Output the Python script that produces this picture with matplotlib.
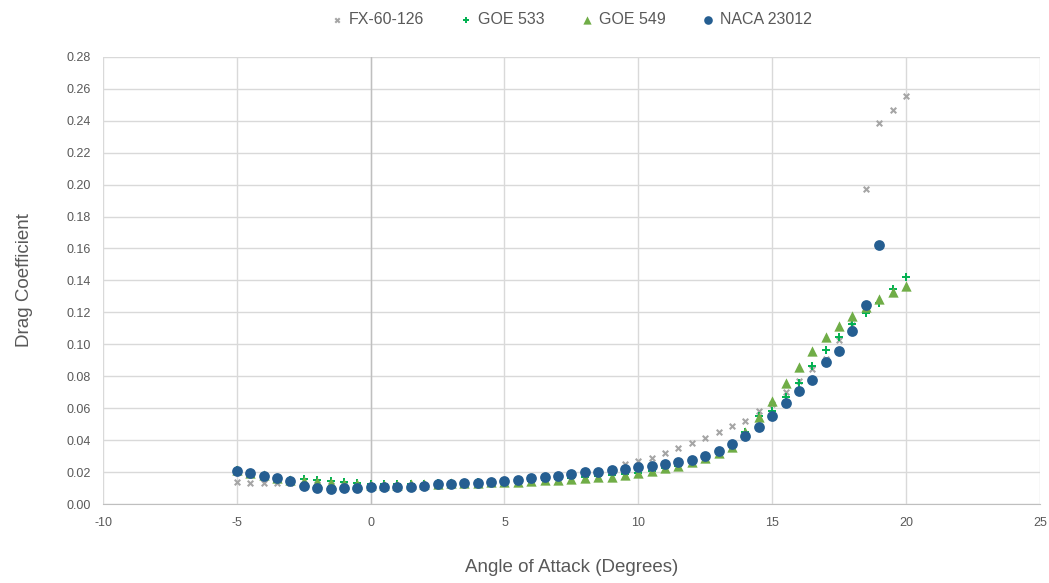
import matplotlib.pyplot as plt
import matplotlib.ticker as mticker
import numpy as np

# углы атаки, шаг 0.5 градуса (-5 ... 20)
alpha = np.arange(-5, 20.01, 0.5)

fx_60_126 = [0.0138, 0.0132, 0.0130, 0.0130, 0.0130, 0.0128, 0.0125, 0.0122, 0.0118, 0.0115,
             0.0112, 0.0110, 0.0110, 0.0112, 0.0115, 0.0118, 0.0120, 0.0123, 0.0127, 0.0130,
             0.0135, 0.0140, 0.0150, 0.0160, 0.0167, 0.0175, 0.0185, 0.0195, 0.0210, 0.0250,
             0.0270, 0.0290, 0.0320, 0.0350, 0.0380, 0.0413, 0.0450, 0.0490, 0.0520, 0.0580,
             0.0625, 0.0700, 0.0770, 0.0845, 0.0910, 0.1027, 0.1120, 0.1975, 0.2387, 0.2470,
             0.2556]
goe_533 = [0.0210, 0.0192, 0.0178, 0.0163, 0.0152, 0.0155, 0.0150, 0.0145, 0.0135, 0.0130,
           0.0125, 0.0125, 0.0125, 0.0126, 0.0128, 0.0130, 0.0132, 0.0134, 0.0136, 0.0138,
           0.0140, 0.0143, 0.0147, 0.0152, 0.0157, 0.0162, 0.0167, 0.0173, 0.0180, 0.0187,
           0.0195, 0.0208, 0.0223, 0.0240, 0.0262, 0.0295, 0.0330, 0.0370, 0.0450, 0.0550,
           0.0580, 0.0670, 0.0760, 0.0865, 0.0965, 0.1047, 0.1128, 0.1197, 0.1260, 0.1347,
           0.1420]
goe_549 = [0.0215, 0.0196, 0.0180, 0.0165, 0.0152, 0.0144, 0.0137, 0.0130, 0.0128, 0.0125,
           0.0120, 0.0120, 0.0121, 0.0123, 0.0125, 0.0128, 0.0130, 0.0132, 0.0134, 0.0136,
           0.0138, 0.0140, 0.0144, 0.0148, 0.0152, 0.0157, 0.0162, 0.0167, 0.0172, 0.0180,
           0.0194, 0.0207, 0.0225, 0.0240, 0.0260, 0.0285, 0.0320, 0.0360, 0.0450, 0.0545,
           0.0645, 0.0760, 0.0860, 0.0955, 0.1045, 0.1117, 0.1180, 0.1235, 0.1285, 0.1325,
           0.1365]
# NACA 23012 -- до 19 градусов
naca_23012 = [0.0207, 0.0194, 0.0177, 0.0160, 0.0146, 0.0113, 0.0100, 0.0096, 0.0100, 0.0102,
              0.0105, 0.0105, 0.0107, 0.0107, 0.0113, 0.0123, 0.0125, 0.0130, 0.0133, 0.0138,
              0.0145, 0.0150, 0.0160, 0.0170, 0.0175, 0.0190, 0.0200, 0.0200, 0.0210, 0.0220,
              0.0230, 0.0240, 0.0250, 0.0265, 0.0276, 0.0300, 0.0330, 0.0375, 0.0425, 0.0480,
              0.0550, 0.0630, 0.0708, 0.0776, 0.0890, 0.0960, 0.1085, 0.1247, 0.1620]

plt.rcParams['font.family'] = ['Liberation Sans', 'DejaVu Sans']
plt.rcParams['axes.unicode_minus'] = False

fig = plt.figure(figsize=(10.49, 5.83), dpi=100)
ax = fig.add_axes([0.0982, 0.1355, 0.893, 0.767])

ax.scatter(alpha, fx_60_126, marker='x', s=16, color='#A5A5A5',
           linewidths=1.5, label='FX-60-126', zorder=3)
ax.scatter(alpha, goe_533, marker='+', s=36, color='#00B050',
           linewidths=1.4, label='GOE 533', zorder=4)
ax.scatter(alpha, goe_549, marker='^', s=55, color='#70AD47',
           linewidths=0, label='GOE 549', zorder=5)
ax.scatter(alpha[:len(naca_23012)], naca_23012, marker='o', s=60, color='#255E91',
           linewidths=0, label='NACA 23012', zorder=6)

ax.set_xlim(-10, 25)
ax.set_ylim(0, 0.28)
ax.xaxis.set_major_locator(mticker.MultipleLocator(5))
ax.yaxis.set_major_locator(mticker.MultipleLocator(0.02))
ax.yaxis.set_major_formatter(mticker.FormatStrFormatter('%.2f'))
ax.grid(True, color='#D9D9D9', linewidth=1, zorder=0)
ax.set_axisbelow(True)
ax.axvline(0, color='#BFBFBF', linewidth=1, zorder=1)
for s in ['top', 'right', 'left']:
    ax.spines[s].set_visible(False)
ax.spines['bottom'].set_color('#BFBFBF')
ax.tick_params(length=0, colors='#595959', labelsize=9, pad=9)

ax.set_xlabel('Angle of Attack (Degrees)', fontsize=13.5, color='#595959', labelpad=22)
ax.set_ylabel('Drag Coefficient', fontsize=13.5, color='#595959', labelpad=24)

leg = fig.legend(loc='center', bbox_to_anchor=(0.545, 0.967), ncol=4, frameon=False,
                 fontsize=11.5, handlelength=0.7, handletextpad=0.4,
                 columnspacing=2.3, markerscale=0.8)
for t in leg.get_texts():
    t.set_color('#595959')

fig.savefig('out.png', dpi=100)
